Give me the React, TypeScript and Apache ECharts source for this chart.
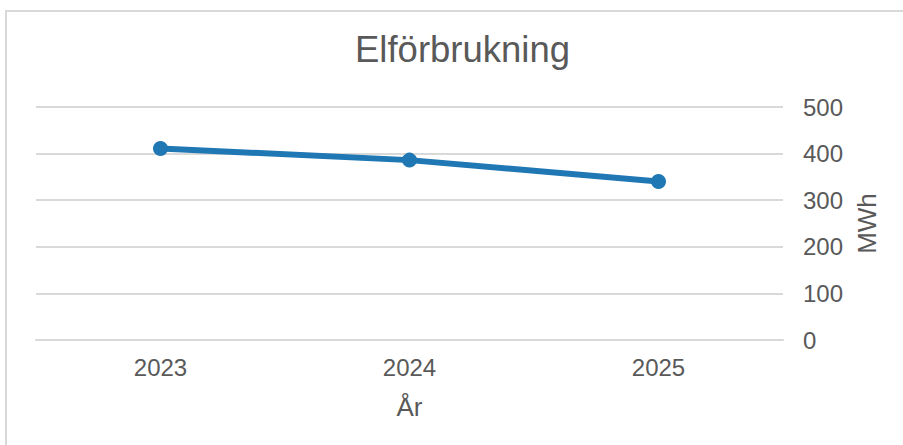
import React, { useEffect, useRef } from "react";
import * as echarts from "echarts";

const years = ["2023", "2024", "2025"];
const consumption = [411, 386, 340];
const chartTitle = "Elförbrukning";
const xName = "År";
const yName = "MWh";

export default function App() {
  const ref = useRef<HTMLDivElement>(null);
  useEffect(() => {
    if (!ref.current) return;
    const chart = echarts.init(ref.current, null, { renderer: "svg" });
    const font = "'Liberation Sans', Arial, sans-serif";
    const grey = "#595959";
    chart.setOption({
      animation: false,
      textStyle: { fontFamily: font },
      title: {
        text: chartTitle,
        left: 355,
        top: 31,
        padding: 0,
        textStyle: { fontSize: 36.5, fontWeight: "normal", color: grey, fontFamily: font },
      },
      graphic: [
        {
          type: "rect",
          shape: { x: 6, y: 11, width: 1000, height: 1000 },
          style: { fill: "none", stroke: "#d9d9d9", lineWidth: 2 },
          silent: true,
        },
      ],
      grid: { left: 36, right: 120, top: 107, bottom: 105, containLabel: false },
      xAxis: {
        type: "category",
        data: years,
        boundaryGap: true,
        axisLine: { show: true, lineStyle: { color: "#d9d9d9", width: 2 } },
        axisTick: { show: false },
        axisLabel: { fontSize: 24, color: grey, margin: 15, fontFamily: font },
        name: xName,
        nameLocation: "middle",
        nameGap: 54,
        nameTextStyle: { fontSize: 26, color: grey, fontFamily: font },
      },
      yAxis: {
        type: "value",
        position: "right",
        min: 0,
        max: 500,
        interval: 100,
        axisLine: { show: false },
        axisTick: { show: false },
        axisLabel: { fontSize: 24, color: grey, margin: 20, fontFamily: font },
        splitLine: { lineStyle: { color: "#d9d9d9", width: 2 } },
        name: yName,
        nameLocation: "middle",
        nameRotate: 90,
        nameGap: 71,
        nameTextStyle: { fontSize: 26, color: grey, fontFamily: font },
      },
      series: [
        {
          type: "line",
          data: consumption,
          symbol: "circle",
          symbolSize: 15,
          lineStyle: { width: 6, color: "#1F77B4" },
          itemStyle: { color: "#1F77B4" },
        },
      ],
    });
    return () => chart.dispose();
  }, []);
  return (
    <div
      ref={ref}
      style={{ position: "absolute", left: 0, top: 0, width: 903, height: 445, background: "#fff" }}
    />
  );
}
